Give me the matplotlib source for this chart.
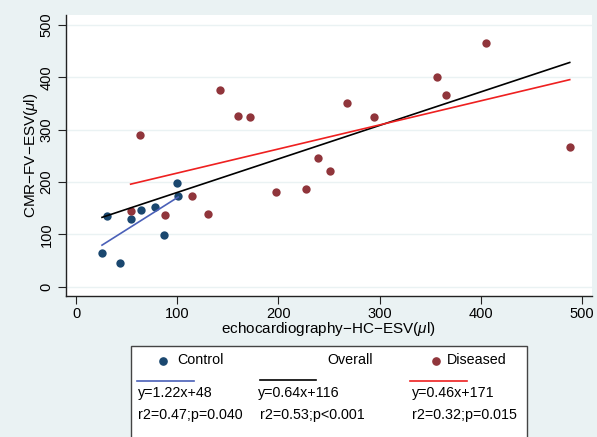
import matplotlib
matplotlib.use("Agg")
import matplotlib.pyplot as plt
from matplotlib.patches import Rectangle
from matplotlib.lines import Line2D
import numpy as np

plt.rcParams['font.family'] = ['Liberation Sans', 'DejaVu Sans']
plt.rcParams['mathtext.fontset'] = 'custom'
plt.rcParams['mathtext.rm'] = 'Liberation Sans'
plt.rcParams['mathtext.it'] = 'Liberation Sans:italic'

# ---- data ----
control_x = [25.7, 30.7, 43, 54.3, 64, 78, 87.3, 100.3, 101]
control_y = [63.7, 135, 44.6, 128.7, 146.5, 151.6, 99.4, 198.7, 172.6]
diseased_x = [54, 63.7, 88.3, 114.7, 130.3, 142.7, 160, 172.3, 197.3,
              227, 239.6, 250.8, 268, 295, 356.4, 365.7, 405, 488]
diseased_y = [144, 290.4, 137, 173, 139.5, 375.8, 326.8, 323.6, 181.5,
              187.3, 246.5, 221, 351, 323.6, 401.3, 366, 465, 267.5]

fit_names = ['Control', 'Overall', 'Diseased']
fit_slopes = [1.22, 0.64, 0.46]
fit_intercepts = [48, 116, 171]
fit_eq = ['y=1.22x+48', 'y=0.64x+116', 'y=0.46x+171']
fit_stats = ['r2=0.47;p=0.040', 'r2=0.53;p<0.001', 'r2=0.32;p=0.015']

x_ticks = [0, 100, 200, 300, 400, 500]
y_ticks = [0, 100, 200, 300, 400, 500]

# ---- style ----
BG = '#eaf2f3'
C_CTRL = '#1a476f'
C_DIS = '#90353b'
L_COLORS = ['#4a60b8', '#000000', '#ee2020']

W, H = 597, 437
fig = plt.figure(figsize=(W / 100, H / 100), dpi=100, facecolor=BG)

def fx(px):
    return px / W

def fy(py):
    return 1 - py / H

ax = fig.add_axes([fx(66), fy(296), fx(592) - fx(66), fy(15) - fy(296)])
ax.set_facecolor('white')
ax.set_xlim(-9.9, 510)
ax.set_ylim(-17.8, 519)

for t in y_ticks:
    ax.axhline(t, color=BG, lw=1.0, zorder=0)

ax.scatter(control_x, control_y, s=36, color=C_CTRL, zorder=3, linewidths=0)
ax.scatter(diseased_x, diseased_y, s=36, color=C_DIS, zorder=3, linewidths=0)

all_x = control_x + diseased_x
ranges = [(min(control_x), max(control_x)),
          (min(all_x), max(all_x)),
          (min(diseased_x), max(diseased_x))]
for (x0, x1), m, b, c in zip(ranges, fit_slopes, fit_intercepts, L_COLORS):
    xs = np.array([x0, x1])
    ax.plot(xs, m * xs + b, color=c, lw=1.2, zorder=4)

for side in ['top', 'right']:
    ax.spines[side].set_visible(False)
for side in ['left', 'bottom']:
    ax.spines[side].set_color('#222222')
    ax.spines[side].set_linewidth(1.0)

ax.set_xticks(x_ticks)
ax.set_yticks(y_ticks)
ax.tick_params(axis='both', direction='out', length=6, width=0.8,
               colors='#222222', labelsize=10.5, labelcolor='black')
ax.tick_params(axis='x', pad=2)
ax.tick_params(axis='y', pad=3)
for lab in ax.get_yticklabels():
    lab.set_rotation(90)
    lab.set_va('center')

fig.text(fx(328), fy(329), 'echocardiography\u2212HC\u2212ESV($\\mu$l)',
         ha='center', va='center', fontsize=11)
fig.text(fx(31.5), fy(155.5), 'CMR\u2212FV\u2212ESV($\\mu$l)',
         ha='center', va='center', fontsize=11, rotation=90)

# ---- legend box ----
fig.patches.append(Rectangle((fx(130.7), fy(445)), fx(527.3) - fx(130.7),
                             fy(345.7) - fy(445), transform=fig.transFigure,
                             facecolor='white', edgecolor='#444444', lw=1.0))

fs = 10.3
# row 1
fig.lines.append(Line2D([fx(163)], [fy(360.5)], marker='o', ms=5.2,
                        color=C_CTRL, mec=C_CTRL, transform=fig.transFigure))
fig.text(fx(177), fy(360.5), fit_names[0], ha='left', va='center', fontsize=fs)
fig.text(fx(327.7), fy(360.5), fit_names[1], ha='left', va='center', fontsize=fs)
fig.lines.append(Line2D([fx(436)], [fy(360.5)], marker='o', ms=5.2,
                        color=C_DIS, mec=C_DIS, transform=fig.transFigure))
fig.text(fx(447), fy(360.5), fit_names[2], ha='left', va='center', fontsize=fs)

# row 2 lines
line_x = [(137.3, 194), (260, 316), (410.3, 467)]
line_y = [380.7, 379.7, 381]
for (a, b), yy, c in zip(line_x, line_y, L_COLORS):
    fig.lines.append(Line2D([fx(a), fx(b)], [fy(yy), fy(yy)], color=c, lw=1.2,
                            transform=fig.transFigure))

eq_x = [137.7, 258.3, 411.7]
st_x = [137.7, 260, 412.3]
for i in range(3):
    fig.text(fx(eq_x[i]), fy(393.3), fit_eq[i], ha='left', va='center', fontsize=fs)
    fig.text(fx(st_x[i]), fy(415), fit_stats[i], ha='left', va='center', fontsize=fs)

fig.savefig('out.png', dpi=100, facecolor=BG)
